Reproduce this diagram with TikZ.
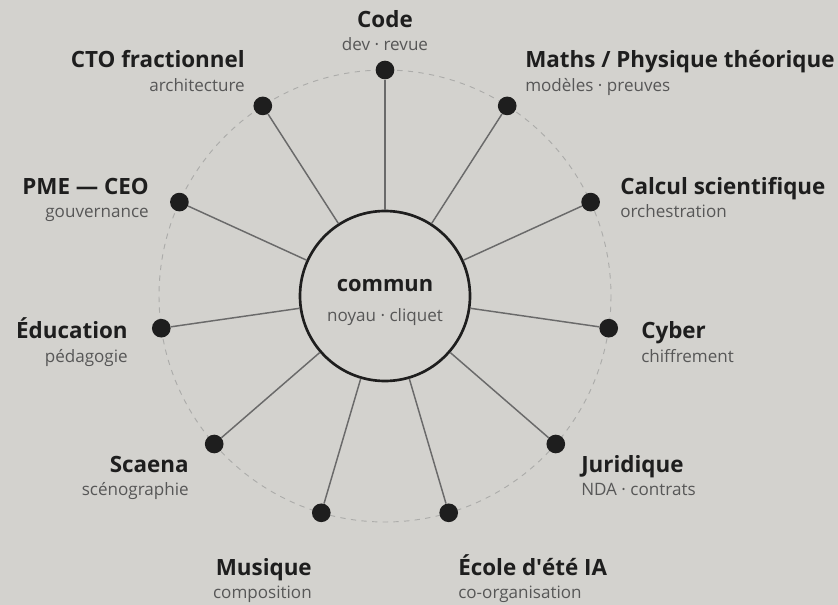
\documentclass[tikz,border=0pt]{standalone}
\usepackage{fontspec}
\setmainfont{Open Sans}
\definecolor{bgc}{HTML}{D3D2CE}
\definecolor{ink}{HTML}{1E1E1E}
\definecolor{subc}{HTML}{575757}
\definecolor{spokec}{HTML}{6A6A6A}
\definecolor{orbitc}{HTML}{ACACAA}
\begin{document}
\begin{tikzpicture}[x=0.75pt,y=-0.75pt,
  ttl/.style={inner sep=0pt, text=ink, font=\fontsize{16.8}{20}\selectfont\bfseries},
  sub/.style={inner sep=0pt, text=subc, font=\fontsize{12.8}{15}\selectfont},
  dot/.style={circle, fill=ink, inner sep=0pt, minimum size=14pt},
  spoke/.style={draw=spokec, line width=1.1pt}]
\fill[bgc] (0,0) rectangle (838,605);
\draw[orbitc, line width=0.7pt, dash pattern=on 4pt off 4pt] (385,296) circle[radius=226];
% hub
\node[circle, draw=ink, line width=2pt, minimum size=127.5pt, inner sep=0pt] (hub) at (385,296) {};
\node[ttl, anchor=base, font=\fontsize{16.4}{20}\selectfont\bfseries] (hubT) at (385,292) {commun};
\node[sub, anchor=base] (hubS) at (385,322) {noyau · cliquet};
% dots on the orbit
\node[dot] (code) at (385,70) {};
\node[dot] (maths) at (507.2,105.9) {};
\node[dot] (calcul) at (590.6,202.1) {};
\node[dot] (cyber) at (608.7,328.2) {};
\node[dot] (juri) at (555.8,444.0) {};
\node[dot] (ecole) at (448.7,512.8) {};
\node[dot] (musique) at (321.3,512.8) {};
\node[dot] (scaena) at (214.2,444.0) {};
\node[dot] (educ) at (161.3,328.2) {};
\node[dot] (pme) at (179.4,202.1) {};
\node[dot] (cto) at (262.8,105.9) {};
\foreach \d in {code,maths,calcul,cyber,juri,ecole,musique,scaena,educ,pme,cto}
  \draw[spoke] (hub) -- (\d);
% labels
\node[ttl, anchor=base] (codeT) at (385,28) {Code};
\node[sub, anchor=base] (codeS) at (385,51) {dev · revue};
\node[ttl, anchor=base west] (mathsT) at (525,68) {Maths / Physique théorique};
\node[sub, anchor=base west] (mathsS) at (525,92) {modèles · preuves};
\node[ttl, anchor=base west] (calculT) at (620,195) {Calcul scientifique};
\node[sub, anchor=base west] (calculS) at (620,218) {orchestration};
\node[ttl, anchor=base west] (cyberT) at (641,339) {Cyber};
\node[sub, anchor=base west] (cyberS) at (641,363) {chiffrement};
\node[ttl, anchor=base west] (juriT) at (581,472) {Juridique};
\node[sub, anchor=base west] (juriS) at (581,495) {NDA · contrats};
\node[ttl, anchor=base west] (ecoleT) at (458,575) {École d\textquotesingle été IA};
\node[sub, anchor=base west] (ecoleS) at (458,598) {co-organisation};
\node[ttl, anchor=base east] (musiqueT) at (312,575) {Musique};
\node[sub, anchor=base east] (musiqueS) at (312,598) {composition};
\node[ttl, anchor=base east] (scaenaT) at (189,472) {Scaena};
\node[sub, anchor=base east] (scaenaS) at (189,495) {scénographie};
\node[ttl, anchor=base east] (educT) at (128,339) {Éducation};
\node[sub, anchor=base east] (educS) at (128,363) {pédagogie};
\node[ttl, anchor=base east] (pmeT) at (149,195) {PME — CEO};
\node[sub, anchor=base east] (pmeS) at (149,218) {gouvernance};
\node[ttl, anchor=base east] (ctoT) at (245,68) {CTO fractionnel};
\node[sub, anchor=base east] (ctoS) at (245,92) {architecture};
\end{tikzpicture}
\end{document}
